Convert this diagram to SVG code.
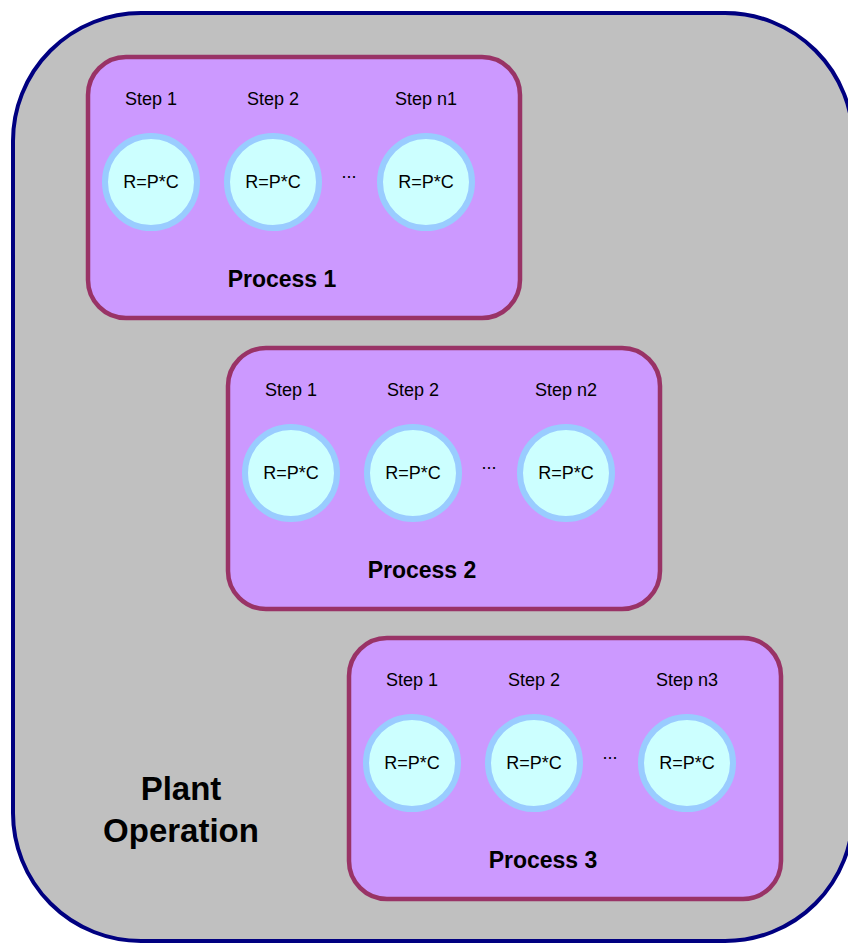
<svg xmlns="http://www.w3.org/2000/svg" width="848" height="943" viewBox="0 0 848 943">
  <style>
    .plant { fill: #C0C0C0; stroke: #000080; stroke-width: 4; }
    .proc { fill: #CC99FF; stroke: #993366; stroke-width: 4.5; }
    .step { fill: #CCFFFF; stroke: #99CCFF; stroke-width: 6; }
    text { font-family: "Liberation Sans", Arial, sans-serif; fill: #000; text-anchor: middle; }
    .lbl { font-size: 18px; }
    .title { font-size: 23px; font-weight: bold; }
    .big { font-size: 33px; font-weight: bold; }
  </style>
  <defs>
    <!-- one process box with its three steps; label texts are added per instance -->
    <g id="procShape">
      <rect class="proc" x="0" y="0" width="432" height="261" rx="38"/>
      <circle class="step" cx="63" cy="125" r="46"/>
      <circle class="step" cx="185" cy="125" r="46"/>
      <circle class="step" cx="338" cy="125" r="46"/>
      <text class="lbl" x="63" y="131">R=P*C</text>
      <text class="lbl" x="185" y="131">R=P*C</text>
      <text class="lbl" x="338" y="131">R=P*C</text>
      <text class="lbl" x="261" y="121">...</text>
      <text class="lbl" x="63" y="48">Step 1</text>
      <text class="lbl" x="185" y="48">Step 2</text>
    </g>
  </defs>

  <rect fill="#FFFFFF" x="0" y="0" width="848" height="943"/>

  <g id="plant">
    <rect class="plant" x="13" y="13" width="840" height="928" rx="128"/>
    <text class="big" x="181" y="800">Plant</text>
    <text class="big" x="181" y="842">Operation</text>
  </g>

  <g id="process1" transform="translate(88,57)">
    <use href="#procShape"/>
    <text class="lbl" x="338" y="48">Step n1</text>
    <text class="title" x="194" y="230">Process 1</text>
  </g>

  <g id="process2" transform="translate(228,348)">
    <use href="#procShape"/>
    <text class="lbl" x="338" y="48">Step n2</text>
    <text class="title" x="194" y="230">Process 2</text>
  </g>

  <g id="process3" transform="translate(349,638)">
    <use href="#procShape"/>
    <text class="lbl" x="338" y="48">Step n3</text>
    <text class="title" x="194" y="230">Process 3</text>
  </g>

  <g id="connectors"/>
</svg>
